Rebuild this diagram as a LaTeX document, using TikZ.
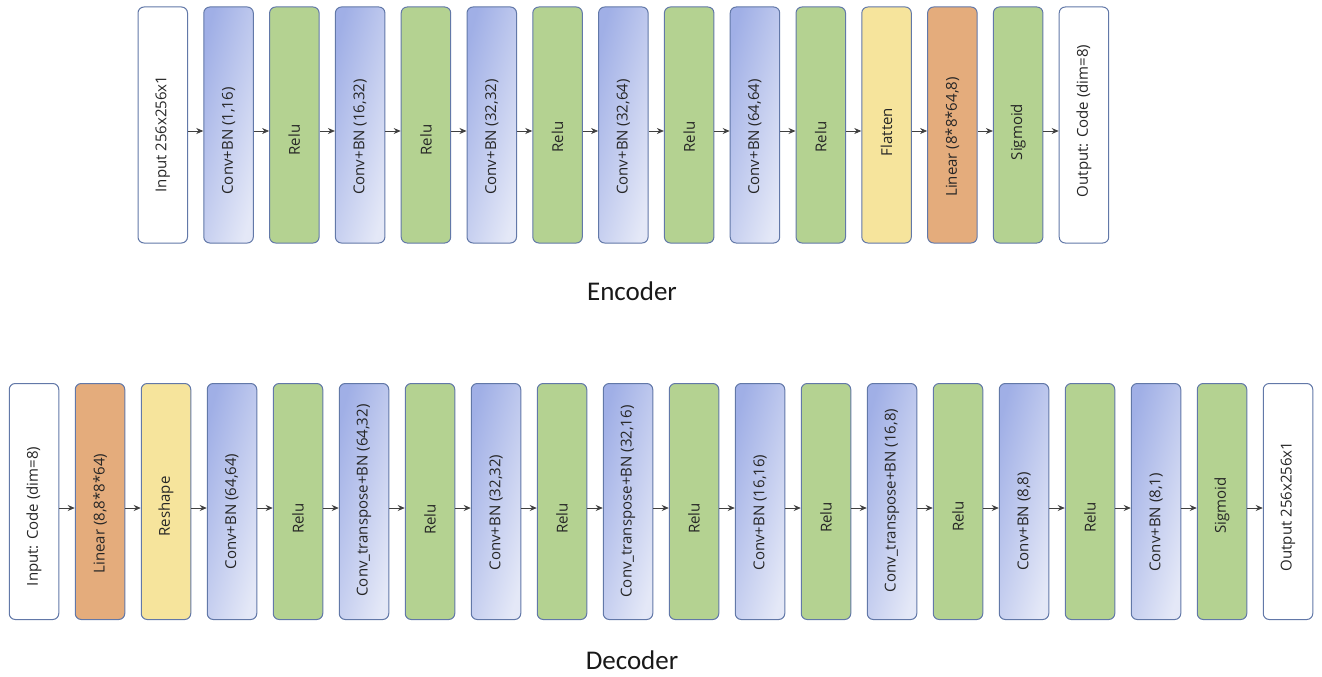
\documentclass[tikz,border=0pt]{standalone}
\usepackage{fontspec}
\usepackage{graphicx}
\setmainfont{Open Sans}
\newfontfamily\labelfont{Carlito}
\usetikzlibrary{arrows.meta}
\definecolor{bordc}{RGB}{98,120,168}
\definecolor{convtop}{RGB}{160,175,230}
\definecolor{convbot}{RGB}{228,232,247}
\definecolor{relu}{RGB}{180,210,145}
\definecolor{yel}{RGB}{246,228,156}
\definecolor{ora}{RGB}{228,172,124}
\tikzset{
 blk/.style={draw=bordc, line width=1pt, rounded corners=6pt, minimum width=49.5pt, minimum height=236pt, inner sep=0pt, font=\fontsize{15}{15}\selectfont, text=black!85},
 io/.style={blk, fill=white},
 conv/.style={blk, left color=convtop, right color=convbot, shading angle=75},
 act/.style={blk, fill=relu},
 yblk/.style={blk, fill=yel},
 oblk/.style={blk, fill=ora},
 arr/.style={line width=0.8pt, black!75, -{Stealth[length=7pt,width=6pt]}},
 title/.style={font=\labelfont\fontsize{27}{27}\selectfont, text=black!90}
}
% #4 = twice the downward shift of the text
\newcommand\blkE[4]{\node[#1] (e#2) at ({162.75+65.8*(#2-1)},125) {\rotatebox{90}{#3\hspace*{#4pt}}};}
\newcommand\blkD[4]{\node[#1] (d#2) at ({34+66*(#2-1)},501.5) {\rotatebox{90}{#3\hspace*{#4pt}}};}
\begin{document}
\begin{tikzpicture}[x=1pt,y=-1pt]
\useasboundingbox (0,0) rectangle (1322,677);
\blkE{io}{1}{Input 256x256x1}{18}
\blkE{conv}{2}{Conv+BN (1,16)}{32}
\blkE{act}{3}{Relu}{30}
\blkE{conv}{4}{Conv+BN (16,32)}{24}
\blkE{act}{5}{Relu}{30}
\blkE{conv}{6}{Conv+BN (32,32)}{24}
\blkE{act}{7}{Relu}{24}
\blkE{conv}{8}{Conv+BN (32,64)}{24}
\blkE{act}{9}{Relu}{24}
\blkE{conv}{10}{Conv+BN (64,64)}{24}
\blkE{act}{11}{Relu}{24}
\blkE{yblk}{12}{Flatten}{14}
\blkE{oblk}{13}{Linear (8*8*64,8)}{24}
\blkE{act}{14}{Sigmoid}{14}
\blkE{io}{15}{Output: Code (dim=8)}{-8}
\foreach \i [evaluate=\i as \j using int(\i+1)] in {1,...,14}
  \draw[arr] ([yshift=-6pt]e\i.east) -- ([yshift=-6pt]e\j.west);
\node[title] (enc) at (632,291) {Encoder};

\blkD{io}{1}{Input: Code (dim=8)}{30}
\blkD{oblk}{2}{Linear (8,8*8*64)}{24}
\blkD{yblk}{3}{Reshape}{10}
\blkD{conv}{4}{Conv+BN (64,64)}{20}
\blkD{act}{5}{Relu}{34}
\blkD{conv}{6}{Conv\_transpose+BN (64,32)}{-2}
\blkD{act}{7}{Relu}{36}
\blkD{conv}{8}{Conv+BN (32,32)}{22}
\blkD{act}{9}{Relu}{34}
\blkD{conv}{10}{Conv\_transpose+BN (32,16)}{0}
\blkD{act}{11}{Relu}{34}
\blkD{conv}{12}{Conv+BN (16,16)}{22}
\blkD{act}{13}{Relu}{32}
\blkD{conv}{14}{Conv\_transpose+BN (16,8)}{-2}
\blkD{act}{15}{Relu}{30}
\blkD{conv}{16}{Conv+BN (8,8)}{40}
\blkD{act}{17}{Relu}{32}
\blkD{conv}{18}{Conv+BN (8,1)}{42}
\blkD{act}{19}{Sigmoid}{8}
\blkD{io}{20}{Output 256x256x1}{10}
\foreach \i [evaluate=\i as \j using int(\i+1)] in {1,...,19}
  \draw[arr] ([yshift=-6.5pt]d\i.east) -- ([yshift=-6.5pt]d\j.west);
\node[title] (dec) at (632,660) {Decoder};
\end{tikzpicture}
\end{document}
